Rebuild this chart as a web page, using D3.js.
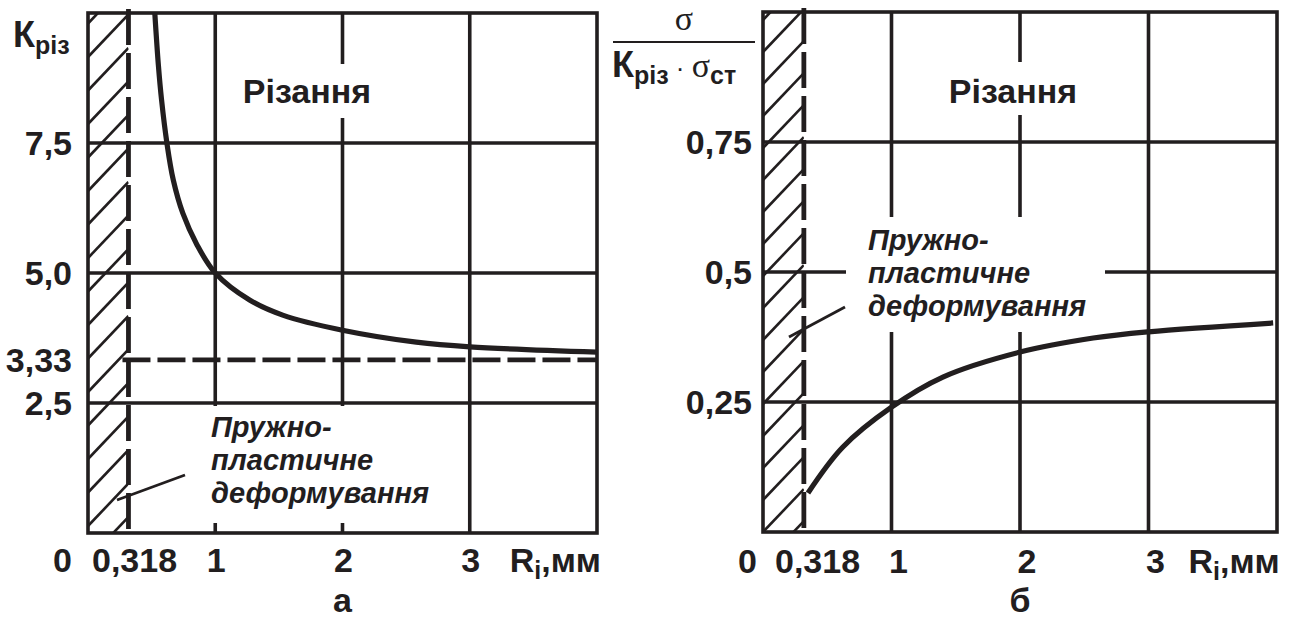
<!DOCTYPE html>
<html><head><meta charset="utf-8">
<script src="https://cdn.jsdelivr.net/npm/d3@7"></script>
<style>
html,body{margin:0;padding:0;background:#fff;}
svg{display:block;font-family:"Liberation Sans",Arial,sans-serif;}
</style></head>
<body>
<script>
// ---- data ----
const xTicks = [1, 2, 3];
const leftYTicks = [7.5, 5.0, 2.5];
const leftYLabels = ["7,5", "5,0", "3,33", "2,5"];
const leftYLabelValues = [7.5, 5.0, 3.33, 2.5];
const rightYTicks = [0.75, 0.5, 0.25];
const rightYLabels = ["0,75", "0,5", "0,25"];
const xLabels = ["1", "2", "3"];
const elasticLimit = 0.318;
const asymptote = 3.33;
const kX = [0.525, 0.553, 0.578, 0.62, 0.67, 0.745, 0.855, 1.0, 1.27, 1.53, 2.0, 2.58, 3.0, 4.0];
const kY = [10, 9.0, 8.33, 7.5, 6.79, 6.15, 5.55, 5.0, 4.48, 4.19, 3.90, 3.67, 3.58, 3.48];
const sX = [0.35, 0.62, 1.0, 1.4, 2.0, 2.57, 3.0, 3.97];
const sY = [0.075, 0.163, 0.24, 0.298, 0.346, 0.373, 0.385, 0.402];
const cutText = "Різання";
const zoneText = ["Пружно-", "пластичне", "деформування"];

const INK = "#221e1f";
const W = 1298, H = 621;
const FS = 34;
const svg = d3.select("body").append("svg").attr("width", W).attr("height", H);

function panel(opt) {
  const {x, y, grid, curveX, curveY, id} = opt;
  const g = svg.append("g");
  const [x0, x1] = x.range();
  const [y1, y0] = y.range();
  const xh = x(elasticLimit);

  g.append("clipPath").attr("id", "clip" + id)
    .append("rect").attr("x", x0).attr("y", y0).attr("width", x1 - x0).attr("height", y1 - y0);
  g.append("clipPath").attr("id", "hclip" + id)
    .append("rect").attr("x", x0).attr("y", y0).attr("width", xh - x0).attr("height", y1 - y0);

  // hatch
  const step = opt.hatchStep, rise = (xh - x0) * 1.05;
  g.append("g").attr("clip-path", `url(#hclip${id})`)
    .selectAll("line").data(d3.range(y0 + opt.hatchStart - step * 2, y1 + rise + step, step))
    .join("line")
    .attr("x1", x0).attr("y1", d => d).attr("x2", xh).attr("y2", d => d - rise)
    .attr("stroke", INK).attr("stroke-width", 2.6);

  // grid
  g.selectAll(".hg").data(grid).join("line")
    .attr("x1", x0).attr("x2", x1).attr("y1", d => y(d)).attr("y2", d => y(d))
    .attr("stroke", INK).attr("stroke-width", 3.6);
  g.selectAll(".vg").data(xTicks).join("line")
    .attr("x1", d => x(d)).attr("x2", d => x(d)).attr("y1", y0).attr("y2", y1)
    .attr("stroke", INK).attr("stroke-width", 3.6);

  // white boxes behind texts
  opt.boxes.forEach(b => g.append("rect").attr("x", b[0]).attr("y", b[1])
    .attr("width", b[2] - b[0]).attr("height", b[3] - b[1]).attr("fill", "#fff"));

  // dashed limit line
  g.append("line").attr("x1", xh).attr("x2", xh).attr("y1", y0 - 4).attr("y2", y1 + 4)
    .attr("stroke", INK).attr("stroke-width", 4.8).attr("stroke-dasharray", "36,8");

  // frame
  g.append("rect").attr("x", x0).attr("y", y0).attr("width", x1 - x0).attr("height", y1 - y0)
    .attr("fill", "none").attr("stroke", INK).attr("stroke-width", 3.6);

  // curve
  const pts = curveX.map((v, i) => [v, curveY[i]]);
  g.append("path").attr("clip-path", `url(#clip${id})`)
    .attr("d", d3.line().x(d => x(d[0])).y(d => y(d[1])).curve(d3.curveCatmullRom.alpha(0.5))(pts))
    .attr("fill", "none").attr("stroke", INK).attr("stroke-width", 5.2);

  // x labels
  const t = g.append("g").attr("font-weight", "bold").attr("font-size", FS).attr("fill", INK);
  t.selectAll(".xl").data(xTicks).join("text")
    .attr("x", d => x(d) + opt.xlShift).attr("y", opt.xlBase).attr("text-anchor", "middle")
    .text((d, i) => xLabels[i]);
  t.append("text").attr("x", x(0) - opt.zeroGap).attr("y", opt.xlBase).attr("text-anchor", "end").text("0");
  t.append("text").attr("x", x(0) + opt.limGap).attr("y", opt.xlBase).text("0,318");
  const r = t.append("text").attr("x", x(3) + 40).attr("y", opt.xlBase);
  r.append("tspan").text("R");
  r.append("tspan").attr("font-size", 25).attr("dy", 7).text("і");
  r.append("tspan").attr("dy", -7).text(",мм");
  t.append("text").attr("x", x(2)).attr("y", 612).attr("text-anchor", "middle").text(opt.caption);

  // "Різання"
  g.append("text").attr("x", opt.cutX).attr("y", opt.cutY).attr("text-anchor", "middle")
    .attr("font-weight", "bold").attr("font-size", FS).attr("fill", INK).text(cutText);

  // zone annotation
  const za = g.append("text").attr("font-weight", "bold").attr("font-style", "italic")
    .attr("font-size", 29).attr("fill", INK);
  zoneText.forEach((s, i) => za.append("tspan").attr("x", opt.zoneX).attr("y", opt.zoneY + i * 33).text(s));
  g.append("line").attr("x1", opt.leader[0]).attr("y1", opt.leader[1])
    .attr("x2", opt.leader[2]).attr("y2", opt.leader[3]).attr("stroke", INK).attr("stroke-width", 2.8);
  return g;
}

// ---- left panel ----
const xL = d3.scaleLinear().domain([0, 4]).range([88, 597]);
const yL = d3.scaleLinear().domain([0, 10]).range([533, 13]);
const gL = panel({
  id: "L", x: xL, y: yL, grid: leftYTicks, curveX: kX, curveY: kY,
  hatchStep: 33.5, hatchStart: 44,
  boxes: [[228, 64, 390, 118], [200, 406, 450, 523]],
  xlShift: 1, xlBase: 572, zeroGap: 16, limGap: 4, caption: "а",
  cutX: 307, cutY: 103, zoneX: 211, zoneY: 437, leader: [185, 475, 117, 500]
});
gL.append("line").attr("x1", xL(elasticLimit) - 6).attr("x2", xL(4))
  .attr("y1", yL(asymptote)).attr("y2", yL(asymptote))
  .attr("stroke", INK).attr("stroke-width", 4.8).attr("stroke-dasharray", "28,7");
gL.selectAll(".yl").data(leftYLabelValues).join("text")
  .attr("x", 72).attr("y", d => yL(d)).attr("dy", "0.36em").attr("text-anchor", "end")
  .attr("font-weight", "bold").attr("font-size", FS).attr("fill", INK)
  .text((d, i) => leftYLabels[i]);
const kl = gL.append("text").attr("x", 13).attr("y", 47).attr("font-weight", "bold").attr("font-size", 36).attr("fill", INK);
kl.append("tspan").text("К");
kl.append("tspan").attr("font-size", 25).attr("dy", 7).text("різ");

// ---- right panel ----
const xR = d3.scaleLinear().domain([0, 4]).range([763, 1277]);
const yR = d3.scaleLinear().domain([0, 1]).range([532, 12]);
const gR = panel({
  id: "R", x: xR, y: yR, grid: rightYTicks, curveX: sX, curveY: sY,
  hatchStep: 32, hatchStart: 40,
  boxes: [[935, 62, 1095, 115], [846, 217, 1105, 332]],
  xlShift: 7, xlBase: 573, zeroGap: 6, limGap: 12, caption: "б",
  cutX: 1013, cutY: 103, zoneX: 868, zoneY: 250, leader: [845, 307, 789, 337]
});
gR.selectAll(".yl").data(rightYTicks).join("text")
  .attr("x", 752).attr("y", d => yR(d)).attr("dy", "0.36em").attr("text-anchor", "end")
  .attr("font-weight", "bold").attr("font-size", FS).attr("fill", INK)
  .text((d, i) => rightYLabels[i]);
gR.append("text").attr("x", 684).attr("y", 30).attr("text-anchor", "middle")
  .attr("font-family", "'Liberation Serif','DejaVu Serif',serif").attr("font-size", 34).attr("fill", INK).text("σ");
gR.append("line").attr("x1", 613).attr("x2", 755).attr("y1", 42).attr("y2", 42).attr("stroke", INK).attr("stroke-width", 2);
const den = gR.append("text").attr("x", 612).attr("y", 77).attr("font-weight", "bold").attr("font-size", 36).attr("fill", INK);
den.append("tspan").text("К");
den.append("tspan").attr("font-size", 25).attr("dy", 7).text("різ");
den.append("tspan").attr("dy", -7).attr("font-weight", "normal").attr("font-size", 26).text(" · ");
den.append("tspan").attr("font-weight", "normal").attr("font-family", "'Liberation Serif','DejaVu Serif',serif").attr("font-size", 34).text("σ");
den.append("tspan").attr("font-size", 25).attr("dy", 7).text("ст");
</script>
</body></html>
